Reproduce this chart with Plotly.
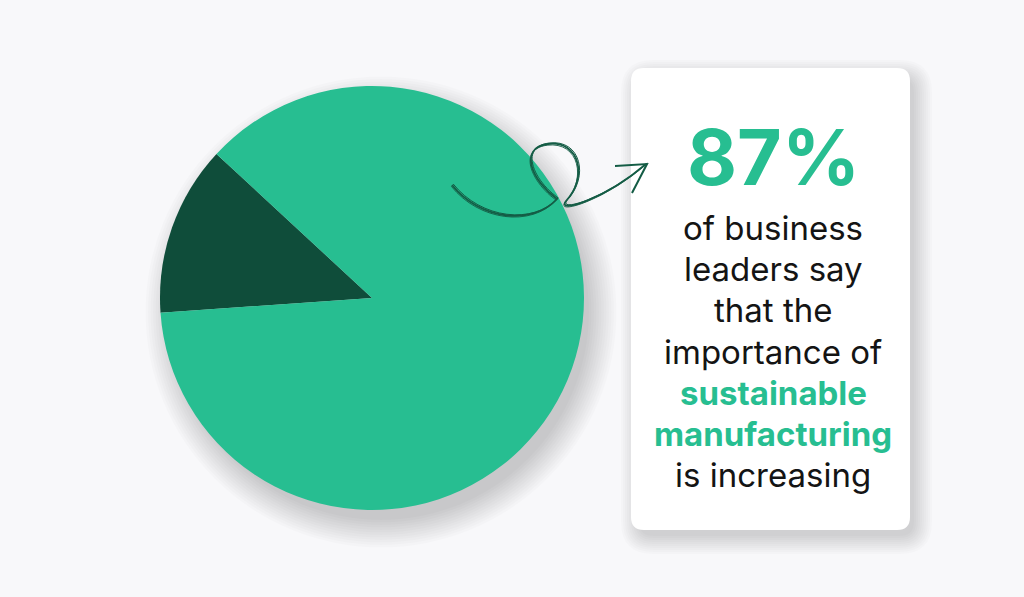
import plotly.graph_objects as go

# Data
labels = ["Other", "Importance of sustainable manufacturing increasing"]
values = [13, 87]
colors = ["#0F4D3A", "#27BE91"]
headline = "87%"
body_lines = ["of business", "leaders say", "that the", "importance of",
              "sustainable", "manufacturing", "is increasing"]
highlight = [False, False, False, False, True, True, False]

W, H = 1024, 597
BG = "#F8F8FA"
GREEN = "#27BE91"

fig = go.Figure()

# pie geometry (pixels)
cx, cy, r = 372, 298, 212
fig.add_trace(go.Pie(
    labels=labels, values=values, sort=False, direction="clockwise",
    rotation=-94, marker=dict(colors=colors, line=dict(width=0)),
    textinfo="none", hoverinfo="label+percent", showlegend=False,
    domain=dict(x=[(cx - r) / W, (cx + r) / W], y=[1 - (cy + r) / H, 1 - (cy - r) / H]),
))

# invisible pixel axes for decorations
fig.add_trace(go.Scatter(x=[0, W], y=[0, H], mode="markers", marker=dict(opacity=0),
                         hoverinfo="skip", showlegend=False))

shapes = []
# pie shadow (soft, layered)
for k in range(12):
    rr = r - 4 + k * 2.5
    shapes.append(dict(type="circle", xref="x", yref="y", layer="below",
                       x0=cx + 9 - rr, x1=cx + 9 + rr, y0=cy + 14 - rr, y1=cy + 14 + rr,
                       fillcolor="rgba(0,0,0,0.016)", line=dict(width=0)))

def rrect(x0, y0, x1, y1, rad):
    return (f"M{x0+rad},{y0} L{x1-rad},{y0} Q{x1},{y0} {x1},{y0+rad} "
            f"L{x1},{y1-rad} Q{x1},{y1} {x1-rad},{y1} L{x0+rad},{y1} "
            f"Q{x0},{y1} {x0},{y1-rad} L{x0},{y0+rad} Q{x0},{y0} {x0+rad},{y0} Z")

# card shadow
for k in range(10):
    g = k * 2
    shapes.append(dict(type="path", xref="x", yref="y", layer="below",
                       path=rrect(631 + 8 - g, 68 + 10 - g, 910 + 4 + g, 530 + 6 + g, 14 + g),
                       fillcolor="rgba(0,0,0,0.014)", line=dict(width=0)))
# card
shapes.append(dict(type="path", xref="x", yref="y", layer="below",
                   path=rrect(631, 68, 910, 530, 13),
                   fillcolor="#FFFFFF", line=dict(width=0)))

# curly arrow (above pie)
pts = [(452, 185), (480, 220), (532, 226), (557, 199),
       (533, 182), (517, 148), (548, 144),
       (580, 140), (588, 178), (566, 201),
       (556, 214), (604, 200), (646, 164)]
for dx, dy, w in [(0, 0, 1.8), (1.2, -1.0, 1.0), (-0.8, 1.2, 0.9)]:
    q = [(x + dx, y + dy) for x, y in pts]
    p = f"M{q[0][0]},{q[0][1]}"
    for i in range(1, len(q), 3):
        p += f" C{q[i][0]},{q[i][1]} {q[i+1][0]},{q[i+1][1]} {q[i+2][0]},{q[i+2][1]}"
    shapes.append(dict(type="path", xref="x", yref="y", layer="above", path=p,
                       line=dict(color="#145C45", width=w)))
shapes.append(dict(type="path", xref="x", yref="y", layer="above",
                   path="M615,166 L647,164 L632,193",
                   line=dict(color="#145C45", width=2)))

annotations = [dict(x=773, y=157, xref="x", yref="y", text=f"<b>{headline}</b>", showarrow=False,
                    font=dict(family="Inter", size=77, color=GREEN, weight=800),
                    xanchor="center", yanchor="middle")]
y0, dy = 228, 41.2
for i, (t, hl) in enumerate(zip(body_lines, highlight)):
    annotations.append(dict(
        x=773, y=y0 + i * dy, xref="x", yref="y",
        text=f"<b>{t}</b>" if hl else t, showarrow=False,
        font=dict(family="Inter", size=33, color=GREEN if hl else "#141414",
                  weight=800 if hl else 400),
        xanchor="center", yanchor="middle"))

fig.update_layout(
    width=W, height=H, margin=dict(l=0, r=0, t=0, b=0),
    paper_bgcolor=BG, plot_bgcolor=BG,
    xaxis=dict(range=[0, W], visible=False, fixedrange=True),
    yaxis=dict(range=[H, 0], visible=False, fixedrange=True),
    shapes=shapes, annotations=annotations, showlegend=False,
)
fig.write_html("out.html", config=dict(displayModeBar=False),
               post_script="document.body.style.margin='0';document.body.style.padding='0';"
                           "document.body.style.background='#F8F8FA';")
